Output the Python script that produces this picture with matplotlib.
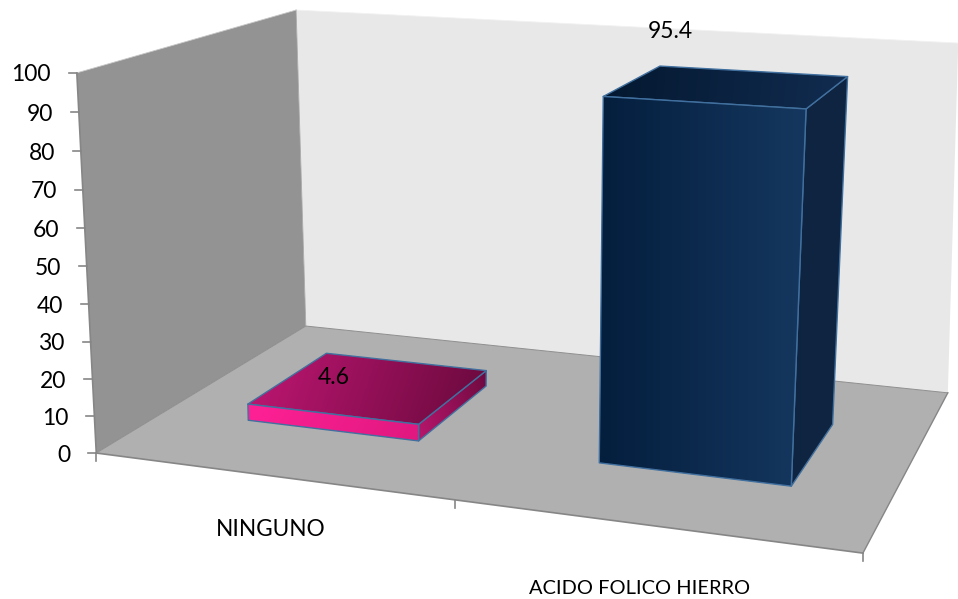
import numpy as np
import matplotlib
matplotlib.use("Agg")
import matplotlib.pyplot as plt
from matplotlib.colors import to_rgb
from matplotlib.patches import Polygon

categories = ["NINGUNO", "ACIDO FOLICO HIERRO"]
values = [4.6, 95.4]
y_ticks = [0, 10, 20, 30, 40, 50, 60, 70, 80, 90, 100]

# where the data labels and category labels sit on the canvas
value_label_xy = [(334, 377), (670, 32)]
cat_label_xy = [(271, 529), (640, 588)]
cat_label_size = [16.3, 14.4]

# face gradients: (start colour, end colour, direction in pixels)
front_fill = [("#ff2196", "#e0187f", (1, 0.6)), ("#041e3d", "#15375f", (1, 0))]
top_fill = [("#bb1670", "#6e0a40", (1, 0.35)), ("#041830", "#112c50", (1, 0.1))]
side_fill = [("#6e0a40", "#b8166c", (-1, 0.3)), ("#0e2441", "#0e2441", (1, 0))]
bar_edge = "#41709f"

plt.rcParams["font.family"] = ["Lato", "DejaVu Sans"]
FONT = 16.5

# box corners: (category position, value, depth) -> canvas pixel
box_model = [(0, 100, 0), (0, 100, 1), (2, 100, 1), (0, 0, 0), (0, 0, 1), (2, 0, 1), (2, 0, 0)]
box_pix = [(76, 73), (297, 10), (958, 43), (97, 453), (305, 326), (948, 393), (863, 553)]


def fit_projection(model, pix):
    rows = []
    for (x, y, z), (u, v) in zip(model, pix):
        rows.append([x, y, z, 1, 0, 0, 0, 0, -u * x, -u * y, -u * z, -u])
        rows.append([0, 0, 0, 0, x, y, z, 1, -v * x, -v * y, -v * z, -v])
    return np.linalg.svd(np.array(rows, float))[2][-1].reshape(3, 4)


P = fit_projection(box_model, box_pix)


def project(x, y, z):
    u, v, w = P @ np.array([x, y, z, 1.0])
    return u / w, v / w


def gradient_face(ax, corners, c0, c1, direction, zorder):
    # linear gradient clipped to the face polygon, outlined afterwards
    pts = np.array(corners)
    x0, y0 = np.floor(pts.min(axis=0))
    x1, y1 = np.ceil(pts.max(axis=0))
    xx, yy = np.meshgrid(np.arange(x0, x1 + 1), np.arange(y0, y1 + 1))
    d = np.array(direction, float)
    t = xx * d[0] + yy * d[1]
    proj = pts @ d
    t = np.clip((t - proj.min()) / (proj.max() - proj.min()), 0, 1)[..., None]
    img = (1 - t) * np.array(to_rgb(c0)) + t * np.array(to_rgb(c1))
    im = ax.imshow(img, extent=(x0 - 0.5, x1 + 0.5, y1 + 0.5, y0 - 0.5), zorder=zorder,
                   interpolation="bilinear", aspect="auto")
    patch = Polygon(corners, fc="none", ec=bar_edge, lw=1.0, joinstyle="round", zorder=zorder + 0.1)
    ax.add_patch(patch)
    im.set_clip_path(patch)


fig = plt.figure(figsize=(9.58, 5.99), dpi=100)
ax = fig.add_axes([0, 0, 1, 1])

# walls and floor
ax.add_patch(Polygon([project(0, 0, 0), project(0, 100, 0), project(0, 100, 1), project(0, 0, 1)],
                     fc="#939393", ec="none", zorder=1))
ax.add_patch(Polygon([project(0, 0, 1), project(0, 100, 1), project(2, 100, 1), project(2, 0, 1)],
                     fc="#e8e8e8", ec="none", zorder=1))
ax.add_patch(Polygon([project(0, 0, 0), project(0, 0, 1), project(2, 0, 1), project(2, 0, 0)],
                     fc="#b0b0b0", ec="none", zorder=1))

# axis lines and ticks
axis_col = "#868686"
ax.plot(*zip(project(0, 0, 0), project(0, 100, 0)), color=axis_col, lw=1.2, zorder=2)
ax.plot(*zip(project(0, 0, 0), project(2, 0, 0)), color=axis_col, lw=1.2, zorder=2)
ax.plot(*zip(project(2, 0, 0), project(2, 0, 1)), color=axis_col, lw=1.0, zorder=2)
ax.plot(*zip(project(0, 0, 0), project(0, 0, 1)), color="#8a8a8a", lw=0.6, zorder=2)
ax.plot(*zip(project(0, 100, 0), project(0, 100, 1)), color="#c8c8c8", lw=0.6, zorder=2)
ax.plot(*zip(project(0, 100, 1), project(2, 100, 1)), color="#f2f2f2", lw=0.6, zorder=2)
ax.plot(*zip(project(0, 0, 1), project(2, 0, 1)), color="#8f8f8f", lw=0.7, zorder=2)
ax.plot(*zip(project(0, 0, 1), project(0, 100, 1)), color="#a6a6a6", lw=0.6, zorder=2)

for t in y_ticks:
    u, v = project(0, t, 0)
    ax.plot([u - 8, u], [v, v], color=axis_col, lw=1.2, zorder=2)
    ax.text(u - 26, v + 2, str(t), ha="right", va="center", fontsize=FONT, color="black", zorder=6)

for i in range(len(categories) + 1):
    u, v = project(i, 0, 0)
    ax.plot([u, u], [v, v + 8], color=axis_col, lw=1.2, zorder=2)

# the columns splay out slightly towards their tops
half_width = 0.25
depth0, depth1 = 0.295, 0.695
lean_left, lean_right = 0.014, 0.023
for i, val in enumerate(values):
    xa, xb = i + 0.5 - half_width, i + 0.5 + half_width
    xa_top = xa + lean_left * val / 100
    xb_top = xb + lean_right * val / 100
    front = [project(xa, 0, depth0), project(xa_top, val, depth0), project(xb_top, val, depth0), project(xb, 0, depth0)]
    top = [project(xa_top, val, depth0), project(xa_top, val, depth1), project(xb_top, val, depth1), project(xb_top, val, depth0)]
    side = [project(xb, 0, depth0), project(xb_top, val, depth0), project(xb_top, val, depth1), project(xb, 0, depth1)]
    gradient_face(ax, side, *side_fill[i], zorder=3)
    gradient_face(ax, top, *top_fill[i], zorder=3.2)
    gradient_face(ax, front, *front_fill[i], zorder=3.4)

for val, (u, v) in zip(values, value_label_xy):
    ax.text(u, v, str(val), ha="center", va="center", fontsize=FONT, color="black", zorder=6)
for name, size, (u, v) in zip(categories, cat_label_size, cat_label_xy):
    ax.text(u, v, name, ha="center", va="center", fontsize=size, color="black", zorder=6)

ax.set_xlim(0, 958)
ax.set_ylim(599, 0)
ax.axis("off")
fig.savefig("out.png", dpi=100)
